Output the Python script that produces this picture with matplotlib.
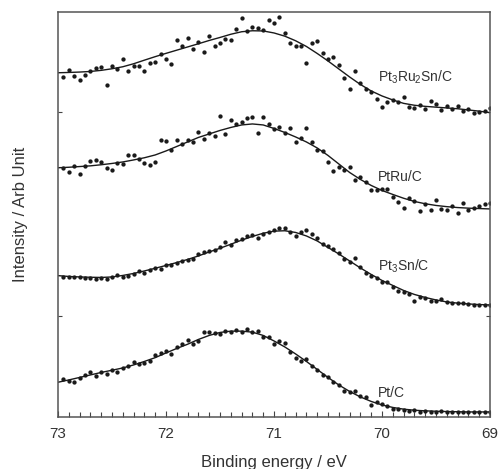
import numpy as np
import matplotlib
matplotlib.use("Agg")
import matplotlib.pyplot as plt

plt.rcParams['font.family'] = ['Liberation Sans', 'DejaVu Sans']
plt.rcParams['mathtext.fontset'] = 'custom'
plt.rcParams['mathtext.rm'] = 'Liberation Sans'
plt.rcParams['mathtext.it'] = 'Liberation Sans'
plt.rcParams['mathtext.default'] = 'rm'

# binding energy of the measured points (eV), 0.05 eV steps
energy = np.linspace(72.95, 69.0, 80)
# energy grid of the fitted curves (eV)
fitEnergy = np.linspace(73.0, 69.0, 41)

names = ["Pt$_3$Ru$_2$Sn/C", "PtRu/C", "Pt$_3$Sn/C", "Pt/C"]

# measured intensities (arb. units, stacked)
ptRuSn = [339.8, 347, 340.8, 337, 341.8, 346, 348.7, 349.8, 332, 351.2,
          348.3, 358.3, 345.7, 351.3, 351, 345.7, 353.7, 354.7, 363.2, 358,
          353, 377.3, 370.7, 379.3, 368.3, 375.3, 365.3, 381, 370.7, 374.3,
          377.7, 376.7, 388, 399, 385.7, 390.2, 388.8, 387.3, 396.5, 394.2,
          400.3, 383.5, 373.7, 371.2, 371, 354.3, 374.3, 376, 364.3, 357.8,
          359.7, 352, 338.7, 328.2, 346.2, 334.3, 327.7, 325.3, 317.7, 309.5,
          315.2, 316.8, 314.5, 319.7, 310.2, 309.3, 311.5, 308.3, 316.3, 313.3,
          306.7, 310.5, 308, 311, 306.2, 307.7, 303.8, 304.7, 306, 308.5]
ptRu = [248.7, 244.8, 251.3, 243.3, 250.5, 256.3, 256.8, 254.5, 248.7, 247,
        253.5, 253.2, 261.8, 261.8, 257.5, 253.7, 251.7, 255.2, 277.2, 276,
        267, 277.2, 273, 276.7, 274.5, 285.2, 277.7, 283.5, 281.2, 300.8,
        283.2, 296.8, 292.8, 295.2, 298.8, 300.3, 283.7, 299.7, 292.7, 288,
        289.7, 283.5, 289, 275.3, 278.7, 289, 274.5, 267.3, 266.3, 255,
        246.3, 250, 246.5, 249.7, 237, 240.3, 234.7, 227, 226.5, 228.3,
        228.3, 219.8, 214.7, 208.7, 219.3, 216.3, 206.3, 213.3, 207, 217,
        208.2, 207, 211.3, 203.7, 214.3, 206.7, 209.3, 211, 213.3, 214]
ptSn = [139.7, 140.3, 139.5, 140, 139.3, 139.2, 138.2, 139.3, 137.5, 140.3,
        141.8, 139.7, 141.3, 142.7, 145.8, 144.3, 147.3, 148.5, 148, 151.7,
        151.8, 153.8, 155.5, 156.8, 158.3, 163, 164.8, 165.7, 166.5, 169.7,
        174.8, 172.3, 177.2, 177.8, 180.7, 181.8, 179.3, 183.3, 185.3, 187.3,
        188.7, 189.3, 185.3, 181.3, 185.3, 187.3, 183, 178.7, 173, 171.2,
        167.8, 164, 157.7, 154.7, 158.5, 149.7, 144.3, 141.3, 138.8, 135.3,
        134.5, 129.8, 125.8, 124.7, 123.3, 115.8, 120, 119.3, 115.7, 116.3,
        117.8, 115.3, 114, 114.2, 113.8, 112.8, 111.5, 111.7, 111.7, 112]
pt = [38, 36.3, 35, 38.7, 42, 45.3, 41.3, 45.3, 43.3, 47.3,
      45.3, 49.3, 50.7, 55.3, 52.7, 53.7, 56, 62, 64.3, 66.3,
      62.7, 69.7, 72.7, 76.7, 73.3, 76, 84.7, 84.7, 84, 83.3,
      86.3, 85.3, 87, 85.3, 88.3, 84.8, 86.2, 79.7, 79.7, 73,
      76.3, 73.7, 64.7, 59.3, 56, 58, 51, 47, 41.5, 39.5,
      35, 31.5, 25.5, 24.7, 26, 21.3, 19.5, 11.8, 14.7, 13.2,
      11.3, 8.2, 7.5, 6.7, 6.2, 6.5, 5.3, 6.3, 5.3, 5,
      5.7, 5.3, 4.7, 4.7, 4.7, 4.7, 4.7, 4.7, 4.7, 4.7]

# fitted curves on fitEnergy
fitPtRuSn = [344.2, 344.5, 344.9, 345.5, 346.6, 348.2, 350.2, 353.2, 356.8, 360.3,
             363.6, 366.8, 370, 373.2, 376.5, 379.5, 382.7, 385.2, 386.2, 386,
             384, 380.8, 376.2, 370.5, 363.5, 356, 348, 340, 332.5, 326,
             321, 317, 313.6, 311.7, 310.6, 309.8, 309, 308.2, 307, 305.8, 304.3]
fitPtRu = [249.2, 249.7, 250.4, 251.1, 252.2, 253.5, 255, 257, 259.2, 262,
           266, 270.5, 275, 279.5, 283, 286.5, 289.5, 292, 293, 292,
           288.5, 284.5, 280, 275, 269, 261.5, 253, 244.5, 237.5, 231.5,
           226.5, 222.5, 218.7, 215.5, 213.2, 211.5, 210.3, 209.4, 208.8, 208.4, 208]
fitPtSn = [141.3, 140.5, 140, 139.7, 139.5, 140, 141.5, 143.5, 146, 148.7,
           151.5, 154.4, 157.5, 161, 165, 168.7, 172.7, 176.8, 180.5, 183.7,
           185.8, 186.2, 184.5, 181, 176, 169.5, 163, 156, 149, 142.5,
           136.5, 131.5, 126.5, 122.5, 119.5, 117, 115, 113.8, 113, 112.4, 112]
fitPt = [34.7, 37, 39.5, 42, 44.5, 46.7, 49, 52, 55.5, 59.3,
         64, 68.5, 72.7, 77.5, 81.5, 84.5, 85.8, 85.8, 84.8, 81.5,
         76, 70, 63, 55.5, 47.5, 39.5, 32, 25.5, 20, 15.5,
         12, 9.5, 7.8, 6.7, 6.1, 5.7, 5.4, 5.2, 5, 5, 5]

labelY = [340, 240, 151, 24]

fig = plt.figure(figsize=(5.0, 4.69), dpi=100)
ax = fig.add_axes([0.116, 0.111, 0.864, 0.8635])

for dots, fit, name, ly in zip([ptRuSn, ptRu, ptSn, pt],
                               [fitPtRuSn, fitPtRu, fitPtSn, fitPt],
                               names, labelY):
    ax.plot(energy, dots, 'o', color='#1a1a1a', markersize=3.1, markeredgewidth=0)
    ax.plot(fitEnergy, fit, '-', color='#1a1a1a', linewidth=1.0)
    ax.text(70.04, ly, name, fontsize=10, ha='left', va='center', color='#333333')

ax.set_xlim(73, 69)
ax.set_ylim(0, 405)
ax.set_xticks([73, 72, 71, 70, 69])
ax.set_xticks(np.arange(69.1, 73.0, 0.1), minor=True)
ax.set_yticks([101, 305])
ax.set_yticklabels([])
ax.tick_params(axis='x', which='major', direction='in', length=4, width=0.8,
               labelsize=11, pad=7, colors='#444444', labelcolor='#333333')
ax.tick_params(axis='x', which='minor', direction='in', length=3.5, width=0.8,
               colors='#444444')
ax.tick_params(axis='y', direction='in', length=3, width=0.8, left=True, right=True,
               colors='#444444')
for s in ax.spines.values():
    s.set_color('#555555')
    s.set_linewidth(1.1)

ax.set_xlabel("Binding energy / eV", fontsize=12, labelpad=10, color='#333333')
ax.set_ylabel("Intensity / Arb Unit", fontsize=12, labelpad=18, color='#333333')

fig.savefig("out.png", dpi=100)
